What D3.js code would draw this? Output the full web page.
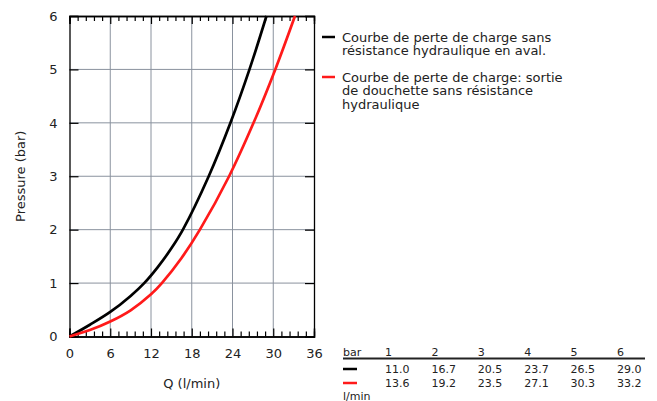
<!DOCTYPE html>
<html><head><meta charset="utf-8">
<script src="https://cdn.jsdelivr.net/npm/d3@7"></script>
<style>body{margin:0;background:#fff;} svg{display:block;font-family:"DejaVu Sans",sans-serif;}</style>
</head><body>
<svg id="c" width="657" height="401"></svg>
<script>
// Data
const pressureLevels = [1, 2, 3, 4, 5, 6];
const flowBlack = [11.0, 16.7, 20.5, 23.7, 26.5, 29.0];
const flowRed = [13.6, 19.2, 23.5, 27.1, 30.3, 33.2];
// Curve points (Q l/min, P bar)
const curveBlackQ = [0, 3, 6, 9, 11.0, 13, 15, 16.7, 20.5, 23.7, 26.5, 29.0];
const curveBlackP = [0, 0.22, 0.46, 0.76, 1, 1.3, 1.65, 2, 3, 4, 5, 6];
const curveRedQ = [0, 3, 6, 9, 12, 13.6, 16.5, 19.2, 23.5, 27.1, 30.3, 33.2];
const curveRedP = [0, 0.12, 0.28, 0.49, 0.79, 1, 1.47, 2, 3, 4, 5, 6];
const xTicks = [0, 6, 12, 18, 24, 30, 36];
const yTicks = [0, 1, 2, 3, 4, 5, 6];
const legendLabels = [
  ["Courbe de perte de charge sans", "résistance hydraulique en aval."],
  ["Courbe de perte de charge: sortie", "de douchette sans résistance", "hydraulique"]
];
const colors = ["#000000", "#ff1a1a"];

const svg = d3.select("#c");
const L = 69.5, R = 314, T = 16, B = 336.5;
const x = d3.scaleLinear().domain([0, 36]).range([L, R]);
const y = d3.scaleLinear().domain([0, 6]).range([B, T]);
const gridColor = "#8a929e";

// grid
svg.append("g").selectAll("line").data(xTicks.slice(1, -1)).join("line")
  .attr("x1", d => x(d)).attr("x2", d => x(d)).attr("y1", T).attr("y2", B)
  .attr("stroke", gridColor).attr("stroke-width", 1);
svg.append("g").selectAll("line").data(yTicks.slice(1, -1)).join("line")
  .attr("y1", d => y(d)).attr("y2", d => y(d)).attr("x1", L).attr("x2", R)
  .attr("stroke", gridColor).attr("stroke-width", 1);

// axes with inward ticks
const minorX = d3.range(0, 36.01, 1.2).filter(v => Math.abs(v / 6 - Math.round(v / 6)) > 1e-6);
const axB = d3.axisBottom(x).tickValues(xTicks).tickSize(-8).tickPadding(12).tickFormat(d3.format("d"));
svg.append("g").attr("transform", `translate(0,${B})`).call(axB);
const axT = d3.axisTop(x).tickValues(xTicks).tickSize(-8).tickFormat("");
svg.append("g").attr("transform", `translate(0,${T})`).call(axT);
svg.append("g").attr("transform", `translate(0,${B})`).call(d3.axisBottom(x).tickValues(minorX).tickSize(-5).tickFormat(""));
svg.append("g").attr("transform", `translate(0,${T})`).call(d3.axisTop(x).tickValues(minorX).tickSize(-5).tickFormat(""));
const axLft = d3.axisLeft(y).tickValues(yTicks).tickSize(-9).tickPadding(12).tickFormat(d3.format("d"));
svg.append("g").attr("transform", `translate(${L},0)`).call(axLft);
svg.append("g").attr("transform", `translate(${R},0)`).call(d3.axisRight(y).tickValues(yTicks).tickSize(-9).tickFormat(""));
svg.selectAll(".domain").attr("stroke", "#000").attr("stroke-width", 1.3);
svg.selectAll(".tick line").attr("stroke", "#000").attr("stroke-width", 1.2);
svg.selectAll(".tick text").attr("font-size", 13).attr("fill", "#222").attr("font-family", "DejaVu Sans");

// axis titles
svg.append("text").attr("x", (L + R) / 2).attr("y", 388).attr("text-anchor", "middle")
  .attr("font-size", 13).attr("fill", "#222").text("Q (l/min)");
svg.append("text").attr("transform", `translate(25,${(T + B) / 2}) rotate(-90)`).attr("text-anchor", "middle")
  .attr("font-size", 13).attr("fill", "#222").text("Pressure (bar)");

// curves
const line = d3.line().x(d => x(d[0])).y(d => y(d[1])).curve(d3.curveCatmullRom.alpha(0.5));
const series = [d3.zip(curveBlackQ, curveBlackP), d3.zip(curveRedQ, curveRedP)];
svg.append("g").selectAll("path").data(series).join("path")
  .attr("d", line).attr("fill", "none")
  .attr("stroke", (d, i) => colors[i]).attr("stroke-width", 2.7);

// legend
const legY = [37, 77];
legendLabels.forEach((lines, i) => {
  svg.append("line").attr("x1", 322).attr("x2", 335).attr("y1", legY[i]).attr("y2", legY[i])
    .attr("stroke", colors[i]).attr("stroke-width", 2.5);
  lines.forEach((t, j) => {
    svg.append("text").attr("x", 342).attr("y", legY[i] + 5 + j * 13.4)
      .attr("font-size", 13).attr("fill", "#222").text(t);
  });
});

// table
const colX = d3.scalePoint().domain(pressureLevels).range([385, 617]);
svg.append("text").attr("x", 343).attr("y", 356).attr("font-size", 11).attr("fill", "#222").text("bar");
svg.append("g").selectAll("text").data(pressureLevels).join("text")
  .attr("x", d => colX(d)).attr("y", 356).attr("font-size", 11).attr("fill", "#222").text(d => d);
svg.append("line").attr("x1", 343).attr("x2", 645).attr("y1", 358.5).attr("y2", 358.5).attr("stroke", "#222").attr("stroke-width", 2);
[flowBlack, flowRed].forEach((vals, i) => {
  const ry = 373 + i * 14;
  svg.append("line").attr("x1", 343).attr("x2", 357).attr("y1", ry - 4).attr("y2", ry - 4)
    .attr("stroke", colors[i]).attr("stroke-width", 2.5);
  svg.append("g").selectAll("text").data(vals).join("text")
    .attr("x", (d, k) => colX(pressureLevels[k])).attr("y", ry).attr("font-size", 11).attr("fill", "#222")
    .text(d => d.toFixed(1));
});
svg.append("text").attr("x", 343).attr("y", 400).attr("font-size", 11).attr("fill", "#222").text("l/min");
</script>
</body></html>
